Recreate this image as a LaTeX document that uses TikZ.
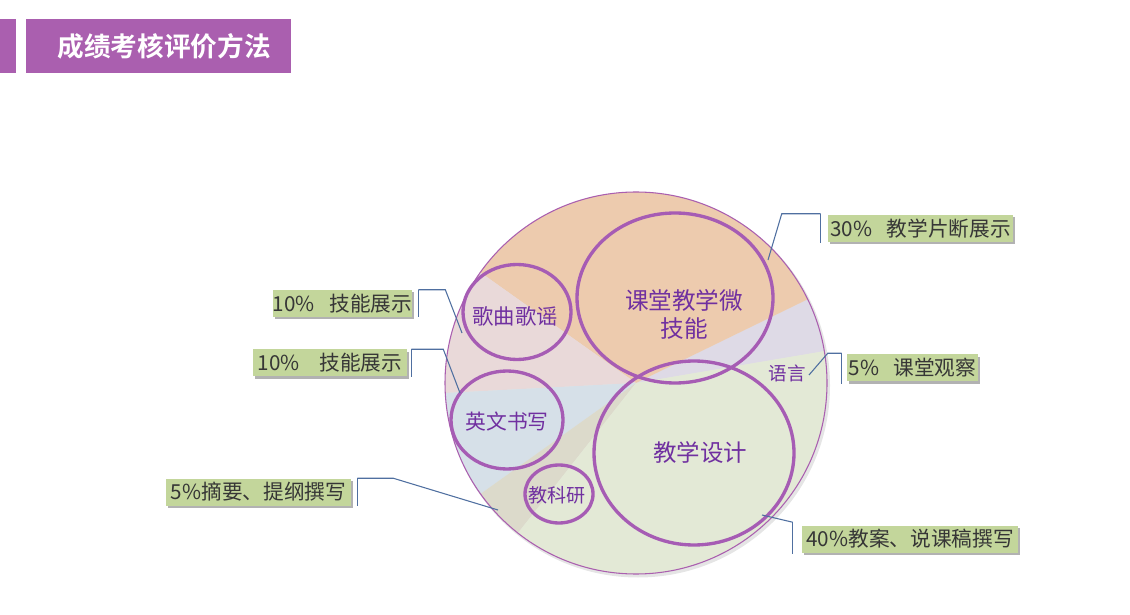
\documentclass[tikz,border=0pt]{standalone}
\usepackage{fontspec}
\setmainfont{Noto Sans CJK SC}[BoldFont={Noto Sans CJK SC Bold}]
\usepackage{tikz}
\usetikzlibrary{shadows,calc}
\definecolor{morado}{HTML}{AA5FAF}
\definecolor{lila}{HTML}{A65CB4}
\definecolor{texto}{HTML}{7030A0}
\definecolor{verde}{HTML}{C3D69B}
\definecolor{gris}{HTML}{363636}
\definecolor{azul}{HTML}{4F6FA0}
\definecolor{naranja}{HTML}{EDCBAE}
\definecolor{rosa}{HTML}{E9D9D9}
\definecolor{celeste}{HTML}{D6E0E8}
\definecolor{arena}{HTML}{DCDACB}
\definecolor{pasto}{HTML}{E3E9D6}
\definecolor{malva}{HTML}{DEDAE6}

\begin{document}
\begin{tikzpicture}[x=0.75pt, y=0.75pt,
  circ/.style={draw=lila, line width=2.5pt},
  txt/.style={text=texto, align=center, inner sep=0pt},
  etq/.style={fill=verde, text=gris, inner sep=0pt, minimum height=20.25pt,
    font=\fontsize{15.5}{18}\selectfont,
    drop shadow={shadow xshift=1.8pt, shadow yshift=-1.8pt, fill=black, opacity=0.3}},
  guia/.style={draw=azul, line width=0.8pt}]
  \useasboundingbox (0,0) rectangle (1130,614);
  % titulo
  \fill[morado] (0,541) rectangle (16,595);
  \fill[morado] (26,541) rectangle (291,595);
  \node[text=white, font=\fontsize{20}{24}\selectfont\bfseries] (tit) at (164,568) {成绩考核评价方法};
  % pastel
  \coordinate (o) at (636,231);
  \fill[black!10] ($(o)+(2,-2.5)$) circle (192);
  \fill[malva]   (o) -- ++(9.6:191) arc (9.6:26:191) -- cycle;
  \fill[naranja] (o) -- ++(26:191) arc (26:144.6:191) -- cycle;
  \fill[rosa]    (o) -- ++(144.6:191) arc (144.6:183:191) -- cycle;
  \fill[celeste] (o) -- ++(183:191) arc (183:215.5:191) -- cycle;
  \fill[arena]   (o) -- ++(215.5:191) arc (215.5:231.8:191) -- cycle;
  \fill[pasto]   (o) -- ++(231.8:191) arc (231.8:369.6:191) -- cycle;
  \draw[morado, line width=0.8pt] (o) circle (191);
  % circulos
  \draw[circ] (517,302) ellipse [x radius=54, y radius=47.5];
  \draw[circ] (675,316) ellipse [x radius=98, y radius=85];
  \draw[circ] (507,194) ellipse [x radius=56, y radius=49];
  \draw[circ] (559,120) ellipse [x radius=34, y radius=29];
  \draw[circ] (694,161) ellipse [x radius=100, y radius=92];
  \node[txt, font=\fontsize{16}{19}\selectfont] (gq) at (515,298) {歌曲歌谣};
  \node[txt, font=\fontsize{17.7}{21}\selectfont] (kt) at (684,300) {课堂教学微\\技能};
  \node[txt, font=\fontsize{15.6}{18}\selectfont] (yw) at (507,192) {英文书写};
  \node[txt, font=\fontsize{14.3}{17}\selectfont] (jky) at (557,119) {教科研};
  \node[txt, font=\fontsize{17.6}{21}\selectfont] (jx) at (700,161) {教学设计};
  \node[txt, font=\fontsize{13.9}{17}\selectfont] (yy) at (787,241) {语言};
  % etiquetas
  \node[etq, minimum width=138.75pt] (l30)  at (920.5,385.5) {30\%\hspace{0.7em}教学片断展示};
  \node[etq, minimum width=104.25pt] (l10a) at (342.5,310.5) {10\%\hspace{0.7em}技能展示};
  \node[etq, minimum width=115.5pt]  (l10b) at (330,251)     {10\%\hspace{0.95em}技能展示};
  \node[etq, minimum width=138.75pt] (l5a)  at (258.5,122)   {5\%摘要、提纲撰写};
  \node[etq, minimum width=98.25pt]  (l5b)  at (912.5,246)   {5\%\hspace{0.7em}课堂观察};
  \node[etq, minimum width=162pt]    (l40)  at (910,75)      {40\%教案、说课稿撰写};
  % guias
  \coordinate (p30) at (768,354);
  \coordinate (p10a) at (462,281);
  \coordinate (p10b) at (460,221);
  \coordinate (p5a) at (498,104);
  \coordinate (p5b) at (809,239);
  \coordinate (p40) at (762,99);
  \draw[guia] ($(l30.north west)+(-7,1)$) -- ($(l30.south west)+(-7,-1)$);
  \draw[guia] ($(l30.north west)+(-7,1)$) -- ++(-39,0) -- (p30);
  \draw[guia] ($(l10a.north east)+(6,0)$) -- ($(l10a.south east)+(6,0)$);
  \draw[guia] ($(l10a.north east)+(6,0)$) -- ++(27,0) -- (p10a);
  \draw[guia] ($(l10b.north east)+(4,0)$) -- ($(l10b.south east)+(4,0)$);
  \draw[guia] ($(l10b.north east)+(4,0)$) -- ++(32,0) -- (p10b);
  \draw[guia] ($(l5a.north east)+(6,0)$) -- ($(l5a.south east)+(6,0)$);
  \draw[guia] ($(l5a.north east)+(6,0)$) -- ++(36,0) -- (p5a);
  \draw[guia] ($(l5b.north west)+(-5,1)$) -- ($(l5b.south west)+(-5,-2)$);
  \draw[guia] ($(l5b.north west)+(-5,1)$) -- ++(-14,0) -- (p5b);
  \draw[guia] ($(l40.north west)+(-9,3)$) -- ($(l40.south west)+(-9,-1)$);
  \draw[guia] ($(l40.north west)+(-9,3)$) -- (p40);
\end{tikzpicture}
\end{document}
